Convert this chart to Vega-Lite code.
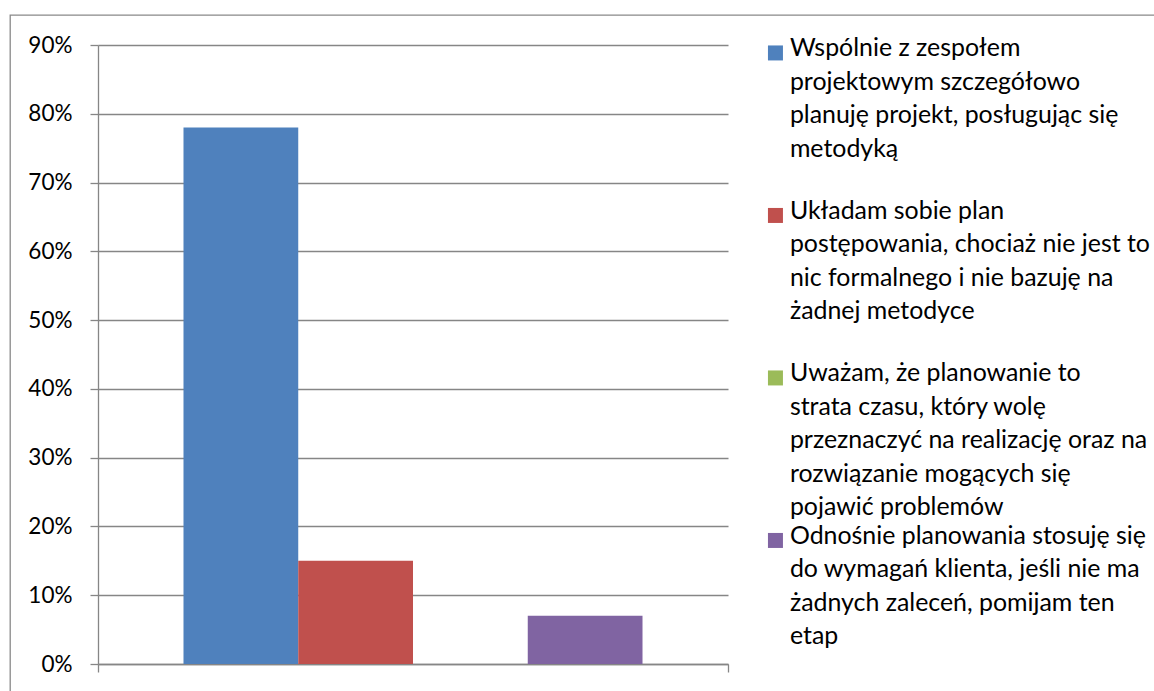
{
  "$schema": "https://vega.github.io/schema/vega-lite/v6.json",
  "width": 1150,
  "height": 682,
  "autosize": "none",
  "padding": {"left": 10, "top": 15, "right": -6, "bottom": -6},
  "background": "white",
  "config": {"view": {"stroke": "#898989", "strokeWidth": 1.3, "fill": "white"}},
  "data": {
    "values": [
      {"category": "", "series": "Wspólnie z zespołem\nprojektowym szczegółowo\nplanuję projekt, posługując się\nmetodyką", "value": 0.78},
      {"category": "", "series": "Układam sobie plan\npostępowania, chociaż nie jest to\nnic formalnego i nie bazuję na\nżadnej metodyce", "value": 0.15},
      {"category": "", "series": "Uważam, że planowanie to\nstrata czasu, który wolę\nprzeznaczyć na realizację oraz na\nrozwiązanie mogących się\npojawić problemów", "value": 0},
      {"category": "", "series": "Odnośnie planowania stosuję się\ndo wymagań klienta, jeśli nie ma\nżadnych zaleceń, pomijam ten\netap", "value": 0.07}
    ]
  },
  "mark": {"type": "bar"},
  "encoding": {
    "x": {
      "field": "category",
      "type": "nominal",
      "scale": {"paddingInner": 0, "paddingOuter": 0, "range": [88, 718]},
      "axis": {
        "title": null,
        "labels": false,
        "ticks": true,
        "tickBand": "extent",
        "tickSize": 8,
        "tickColor": "#868686",
        "tickWidth": 1.3,
        "offset": -33,
        "domainColor": "#868686",
        "domainWidth": 1.3
      }
    },
    "xOffset": {"field": "series", "type": "nominal", "sort": null, "scale": {"paddingInner": 0, "paddingOuter": 0.745}},
    "y": {
      "field": "value",
      "type": "quantitative",
      "scale": {"domain": [0, 0.9], "nice": false, "range": [649, 30]},
      "axis": {
        "title": null,
        "format": ".0%",
        "values": [0, 0.1, 0.2, 0.3, 0.4, 0.5, 0.6, 0.7, 0.8, 0.9],
        "offset": -88,
        "tickSize": 8,
        "tickColor": "#868686",
        "tickWidth": 1.3,
        "domainColor": "#868686",
        "domainWidth": 1.3,
        "gridColor": "#868686",
        "gridWidth": 1.3,
        "labelPadding": 18,
        "labelFont": "Lato",
        "labelFontSize": 22.5,
        "labelColor": "#000000"
      }
    },
    "color": {
      "field": "series",
      "type": "nominal",
      "sort": null,
      "scale": {"range": ["#4F81BD", "#C0504D", "#9BBB59", "#8064A2"]},
      "legend": {
        "title": null,
        "orient": "none",
        "legendX": 753,
        "legendY": 25.5,
        "padding": 0,
        "symbolType": "square",
        "symbolSize": 225,
        "symbolStrokeWidth": 0,
        "labelFont": "Lato",
        "labelFontSize": 24.9,
        "labelColor": "#000000",
        "labelBaseline": "top",
        "labelLimit": 0,
        "labelOffset": 2,
        "rowPadding": 2.5,
        "gridAlign": "all",
        "labelExpr": "split(datum.label, '\\n')",
        "encode": {"labels": {"update": {"dy": {"value": -16.5}, "lineHeight": {"value": 33.5}}}}
      }
    }
  }
}
